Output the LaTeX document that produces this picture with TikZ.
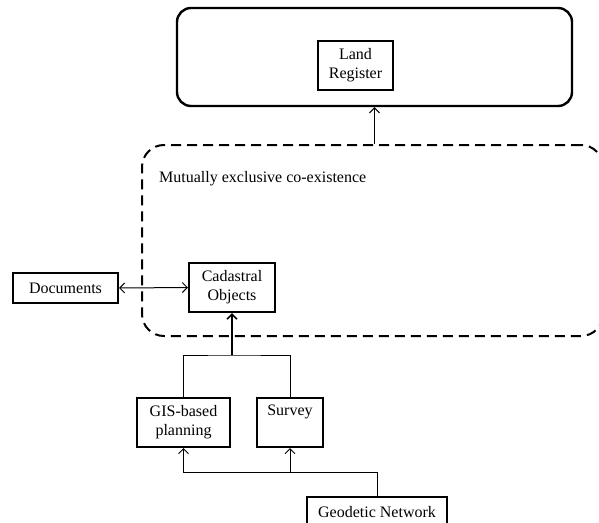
\documentclass[tikz,border=0pt]{standalone}
\usepackage{fontspec}
\setmainfont{Liberation Serif}
\usetikzlibrary{arrows.meta,calc}
\begin{document}
\begin{tikzpicture}[x=1pt,y=-1pt,
  every node/.style={font=\fontsize{16}{19}\selectfont},
  box/.style={draw,line width=2pt,rectangle,align=center,inner sep=0pt},
  link/.style={line width=1pt},
  arr/.style={link,-{Straight Barb[length=5pt,width=10pt]}},
  biarr/.style={link,{Straight Barb[length=5pt,width=10pt]}-{Straight Barb[length=5pt,width=10pt]}}
]
\useasboundingbox (0,0) rectangle (599,522);
\begin{scope}
\clip (0,0) rectangle (599,522);
% outer frames
\node[draw,line width=2.4pt,rounded corners=14pt,minimum width=395pt,minimum height=98pt] (top) at (374.5,57) {};
\node[draw,line width=2pt,dashed,dash pattern=on 10pt off 6pt,rounded corners=22pt,minimum width=461pt,minimum height=191pt] (zone) at (372.5,240.5) {};
\node[anchor=west,inner sep=0pt] (zonelabel) at (159,179) {Mutually exclusive co-existence};
% boxes
\node[box,minimum width=75pt,minimum height=49pt] (land) at (355.5,65.5) {Land\\Register};
\node[box,minimum width=86pt,minimum height=49pt] (cad) at (232,287.5) {Cadastral\\Objects};
\node[box,minimum width=105pt,minimum height=30pt] (docs) at (65.5,288) {Documents};
\node[box,minimum width=93pt,minimum height=49pt] (gis) at (183.5,422.5) {GIS-based\\planning};
\node[box,minimum width=66pt,minimum height=49pt] (survey) at (290,422.5) {Survey\\\strut};
\node[box,minimum width=140pt,minimum height=30pt] (geo) at (377,512) {Geodetic Network};
% connectors
\draw[arr] (top.south |- zone.north) -- (top.south);
\draw[biarr] (docs.east) -- (cad.west);
\coordinate (split) at (232,355);
\draw[link] (gis.north) |- (split) -| (survey.north);
\draw[arr,line width=1.6pt] (split) -- (cad.south);
\coordinate (bus) at (377,472);
\draw[arr] (geo.north) -- (bus) -| (gis.south);
\draw[arr] (survey.south |- bus) -- (survey.south);
\end{scope}
\end{tikzpicture}
\end{document}
